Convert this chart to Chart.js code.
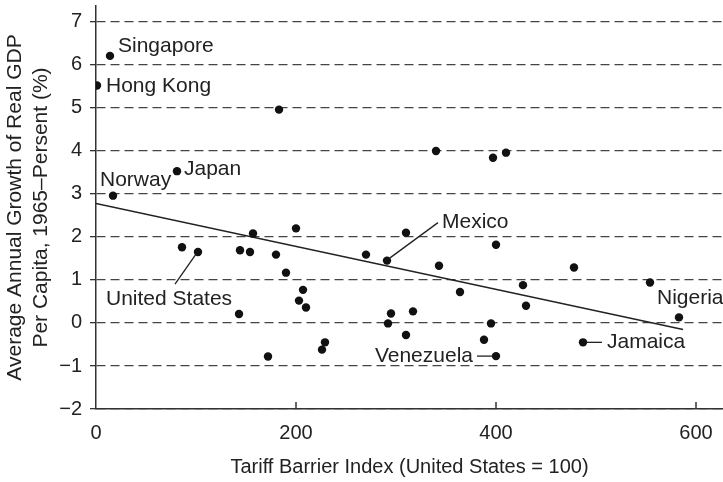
<!DOCTYPE html>
<html>
    <head>
        <meta charset="utf-8">
        <title>Tariff Barriers and Growth</title>
        <script src="https://cdn.jsdelivr.net/npm/chart.js@4.4.1/dist/chart.umd.min.js"></script>
        <style>
            body { margin: 0; background: #fff; }
        </style>
    </head>

    <body>
        <canvas id="wykres" width="723" height="482"></canvas>

        <script>
            // tariff barrier index (US = 100) and growth of real GDP per capita (%)
            var tariffIndex = [1, 14, 17, 81, 86, 102, 143, 144, 154, 157, 172, 180, 183, 190, 200,
                               203, 207, 210, 226, 229, 270, 291, 292, 295, 310, 310, 317, 340, 343,
                               364, 388, 395, 397, 400, 400, 410, 427, 430, 478, 487, 554, 583];
            var gdpGrowth = [5.52, 6.21, 2.96, 3.53, 1.76, 1.65, 0.21, 1.69, 1.65, 2.08, -0.78, 1.59, 4.96, 1.17, 2.2,
                             0.52, 0.77, 0.36, -0.62, -0.45, 1.59, 1.45, -0.01, 0.22, -0.28, 2.1, 0.27, 4.0, 1.33,
                             0.72, -0.39, -0.01, 3.84, 1.82, -0.77, 3.96, 0.88, 0.40, 1.29, -0.45, 0.94, 0.13];

            // named countries and the index of their point
            var countryNames = ["Hong Kong", "Singapore", "Norway", "Japan", "United States",
                                "Mexico", "Venezuela", "Jamaica", "Nigeria"];
            var countryPoint = [0, 1, 2, 3, 5, 21, 34, 39, 41];

            // regression line ends
            var fitX = [0, 587];
            var fitY = [2.78, -0.15];

            var xTicks = [0, 200, 400, 600];
            var yTicks = [-2, -1, 0, 1, 2, 3, 4, 5, 6, 7];

            var tekst = "#222";
            var os = "#333";
            Chart.defaults.font.family = "'Liberation Sans', Arial, sans-serif";

            // label placement: offset from point, alignment, leader line
            var etykiety = {
                "Singapore":     { dx: 8,   dy: -10, align: "left" },
                "Hong Kong":     { dx: 9,   dy: 1,   align: "left" },
                "Japan":         { dx: 7,   dy: -2,  align: "left" },
                "Norway":        { dx: -13, dy: -15, align: "left" },
                "United States": { dx: -92, dy: 47,  align: "left", line: [-2, 2, -23, 32] },
                "Mexico":        { dx: 55,  dy: -38, align: "left", line: [2, -2, 51, -38] },
                "Venezuela":     { dx: -23, dy: 0,   align: "right", line: [-19, 0, -4, 0] },
                "Jamaica":       { dx: 24,  dy: 0,   align: "left", line: [4, 0, 19, 0] },
                "Nigeria":       { dx: -22, dy: -19, align: "left" }
            };

            var opisy = {
                id: "opisy",
                afterDatasetsDraw: function(chart) {
                    var ctx = chart.ctx;
                    var sx = chart.scales.x, sy = chart.scales.y;
                    ctx.save();
                    // inward ticks on the x axis
                    ctx.strokeStyle = os;
                    ctx.lineWidth = 1.5;
                    xTicks.forEach(function(v) {
                        if (v === 0) return;
                        var px = sx.getPixelForValue(v);
                        ctx.beginPath();
                        ctx.moveTo(px, sy.bottom);
                        ctx.lineTo(px, sy.bottom - 7);
                        ctx.stroke();
                    });
                    ctx.font = "21px 'Liberation Sans', Arial, sans-serif";
                    ctx.fillStyle = tekst;
                    ctx.textBaseline = "middle";
                    ctx.lineWidth = 1.3;
                    ctx.strokeStyle = tekst;
                    for (var i = 0; i < countryNames.length; i++) {
                        var nazwa = countryNames[i];
                        var k = countryPoint[i];
                        var px = sx.getPixelForValue(tariffIndex[k]);
                        var py = sy.getPixelForValue(gdpGrowth[k]);
                        var e = etykiety[nazwa];
                        ctx.textAlign = e.align;
                        ctx.fillText(nazwa, px + e.dx, py + e.dy);
                        if (e.line) {
                            ctx.beginPath();
                            ctx.moveTo(px + e.line[0], py + e.line[1]);
                            ctx.lineTo(px + e.line[2], py + e.line[3]);
                            ctx.stroke();
                        }
                    }
                    ctx.restore();
                }
            };

            var punkty = [];
            for (var i = 0; i < tariffIndex.length; i++) {
                punkty.push({ x: tariffIndex[i], y: gdpGrowth[i] });
            }
            var linia = [];
            for (var i = 0; i < fitX.length; i++) {
                linia.push({ x: fitX[i], y: fitY[i] });
            }

            var wykres = new Chart(document.getElementById("wykres").getContext("2d"), {
                type: "scatter",
                data: {
                    datasets: [{
                        label: "Countries",
                        data: punkty,
                        pointRadius: 4.2,
                        pointBackgroundColor: "#111",
                        pointBorderWidth: 0
                    }, {
                        label: "Trend",
                        data: linia,
                        showLine: true,
                        pointRadius: 0,
                        borderColor: "#222",
                        borderWidth: 1.5
                    }]
                },
                options: {
                    responsive: false,
                    devicePixelRatio: 1,
                    animation: false,
                    layout: { autoPadding: false, padding: { top: 6, right: 0, left: 0, bottom: 0 } },
                    plugins: {
                        legend: { display: false },
                        tooltip: { enabled: false }
                    },
                    scales: {
                        x: {
                            type: "linear",
                            min: 0,
                            max: 627,
                            afterBuildTicks: function(s) { s.ticks = xTicks.map(function(v) { return { value: v }; }); },
                            afterFit: function(s) {
                                s.height = 73;
                                s.paddingLeft = 0;
                                s.paddingRight = 0;
                            },
                            grid: { drawOnChartArea: false, drawTicks: false },
                            border: { color: os, width: 1.5 },
                            ticks: { color: tekst, font: { size: 20 }, padding: 12, maxRotation: 0 },
                            title: {
                                display: true,
                                text: "Tariff Barrier Index (United States = 100)",
                                color: tekst,
                                font: { size: 20 },
                                padding: { top: 0, bottom: 3 }
                            }
                        },
                        y: {
                            min: -2,
                            max: 7.37,
                            afterBuildTicks: function(s) { s.ticks = yTicks.map(function(v) { return { value: v }; }); },
                            afterFit: function(s) {
                                s.width = 96;
                                s.paddingTop = 0;
                                s.paddingBottom = 0;
                            },
                            grid: {
                                color: "#444",
                                lineWidth: 1.3,
                                drawTicks: true,
                                tickLength: 6,
                                tickBorderDash: [],
                                tickColor: os
                            },
                            border: { color: os, width: 1.5, dash: [9, 5] },
                            ticks: {
                                color: tekst,
                                font: { size: 20 },
                                padding: 8,
                                callback: function(v) { return v < 0 ? "\u2212" + Math.abs(v) : "" + v; }
                            },
                            title: {
                                display: true,
                                text: ["Average Annual Growth of Real GDP", "Per Capita, 1965\u2013Persent (%)"],
                                color: tekst,
                                font: { size: 21, lineHeight: 1.2 },
                                padding: { top: 3, bottom: 0 }
                            }
                        }
                    }
                },
                plugins: [opisy]
            });
        </script>
    </body>
</html>
